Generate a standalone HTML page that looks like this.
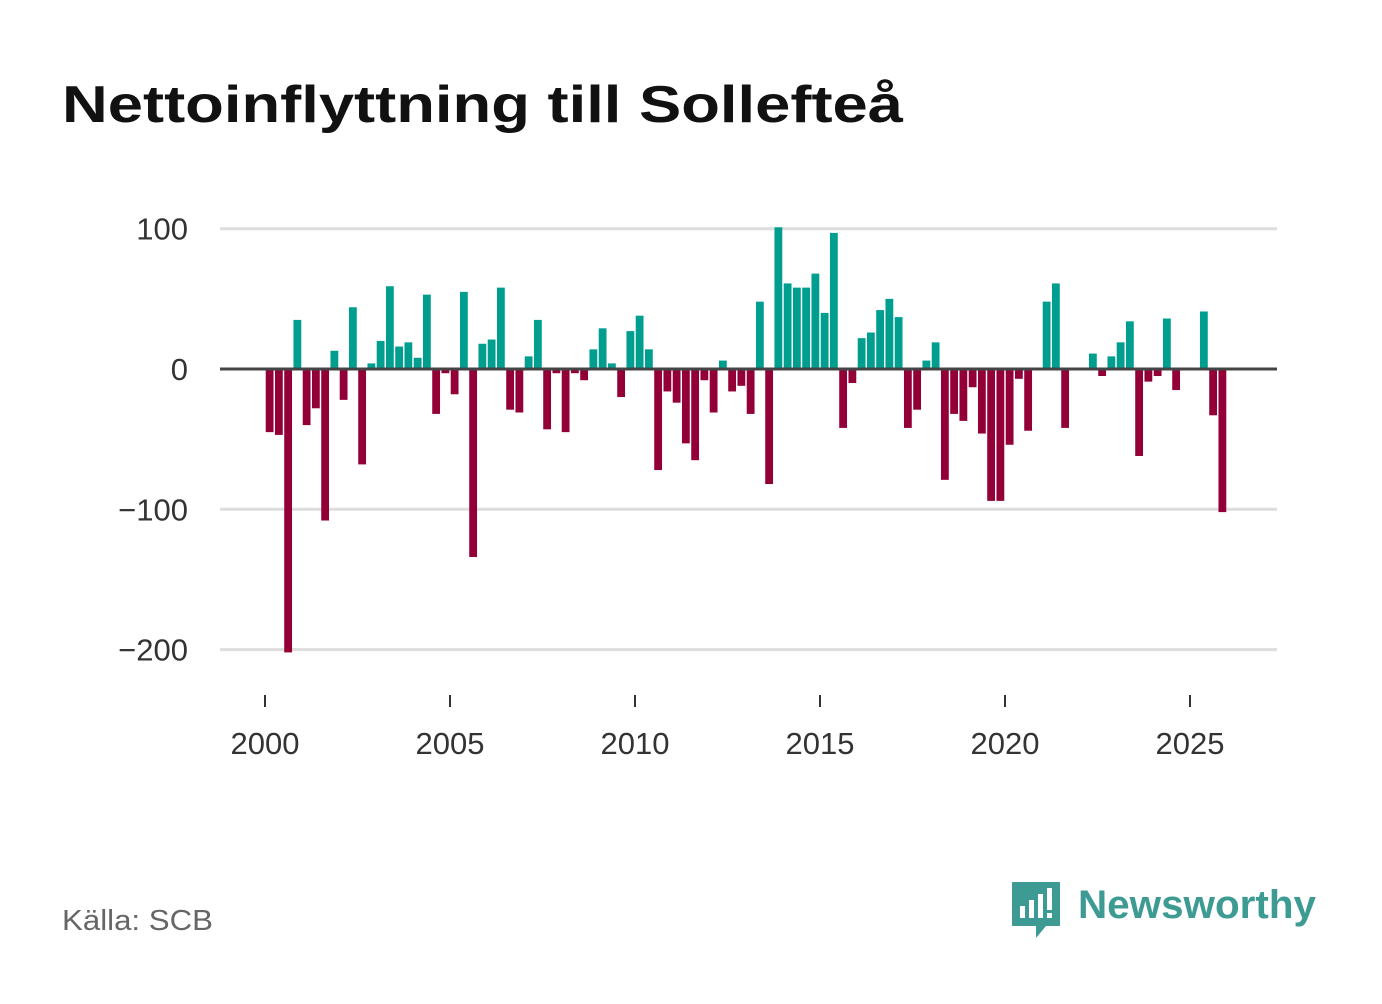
<!DOCTYPE html>
<html><head><meta charset="utf-8"><style>
body{margin:0;background:#fff;width:1382px;height:999px;overflow:hidden;font-family:"Liberation Sans","DejaVu Sans",sans-serif}
</style></head><body>
<svg width="1382" height="999" xmlns="http://www.w3.org/2000/svg">
<text x="62" y="122" font-size="52" font-weight="bold" fill="#111" textLength="841" lengthAdjust="spacingAndGlyphs">Nettoinflyttning till Sollefteå</text>
<g id="grid"></g><g id="bars"></g><g id="axes"></g>
<text x="62" y="930" font-size="29" fill="#666" textLength="151" lengthAdjust="spacingAndGlyphs">Källa: SCB</text>
<g>
<path d="M1012 882h48v44h-14l-10 12v-12h-24z" fill="#3d9b93"/>
<rect x="1020" y="906" width="5" height="12" fill="#fff"/><rect x="1029" y="900" width="5" height="18" fill="#fff"/><rect x="1038" y="894" width="5" height="24" fill="#fff"/><rect x="1047" y="888" width="5" height="22" fill="#fff"/><rect x="1047" y="913" width="5" height="5" fill="#fff"/>
<text x="1078" y="918" font-size="40" font-weight="bold" fill="#3d9b93" textLength="238" lengthAdjust="spacingAndGlyphs">Newsworthy</text>
</g>
</svg>
<script>
const values=[-45,-47,-202,35,-40,-28,-108,13,-22,44,-68,4,20,59,16,19,8,53,-32,-3,-18,55,-134,18,21,58,-29,-31,9,35,-43,-3,-45,-3,-8,14,29,4,-20,27,38,14,-72,-16,-24,-53,-65,-8,-31,6,-16,-12,-32,48,-82,101,61,58,58,68,40,97,-42,-10,22,26,42,50,37,-42,-29,6,19,-79,-32,-37,-13,-46,-94,-94,-54,-7,-44,0,48,61,-42,0,1,11,-5,9,19,34,-62,-9,-5,36,-15,0,0,41,-33,-102];
const startYear=2000;
const yTicks=[100,0,-100,-200];
const yTickLabels=["100","0","−100","−200"];
const xTicks=[2000,2005,2010,2015,2020,2025];
const NS="http://www.w3.org/2000/svg";
const x=t=>265+(t-2000)*37;
const y=v=>369-v*1.403;
function mk(tag,attrs,parent){const e=document.createElementNS(NS,tag);for(const k in attrs)e.setAttribute(k,attrs[k]);document.getElementById(parent).appendChild(e);return e;}
yTicks.forEach((v,i)=>{
 if(v!==0){const l=mk('line',{x1:220,x2:1277,y1:y(v),y2:y(v),stroke:'#ddd','stroke-width':3},'grid');
 
 }
 const t=mk('text',{x:188,y:y(v)+11,'font-size':31,fill:'#333','text-anchor':'end'},'axes');t.textContent=yTickLabels[i];
 
 
});
values.forEach((v,i)=>{
 const cx=x(startYear+(i+0.5)/4);
 const r=mk('rect',{x:cx-3.9,y:Math.min(y(v),y(0)),width:7.8,height:Math.abs(y(v)-y(0)),fill:v>=0?'#009e8f':'#930038'},'bars');
 
 
});
const z=mk('line',{x1:220,x2:1277,y1:y(0),y2:y(0),stroke:'#444','stroke-width':3},'axes');


xTicks.forEach(t=>{
 const l=mk('line',{x1:x(t),x2:x(t),y1:695,y2:707,stroke:'#333','stroke-width':2},'axes');
 
 
 const tx=mk('text',{x:x(t),y:754,'font-size':31,fill:'#333','text-anchor':'middle'},'axes');tx.textContent=t;
 
 
});
</script>
</body></html>
